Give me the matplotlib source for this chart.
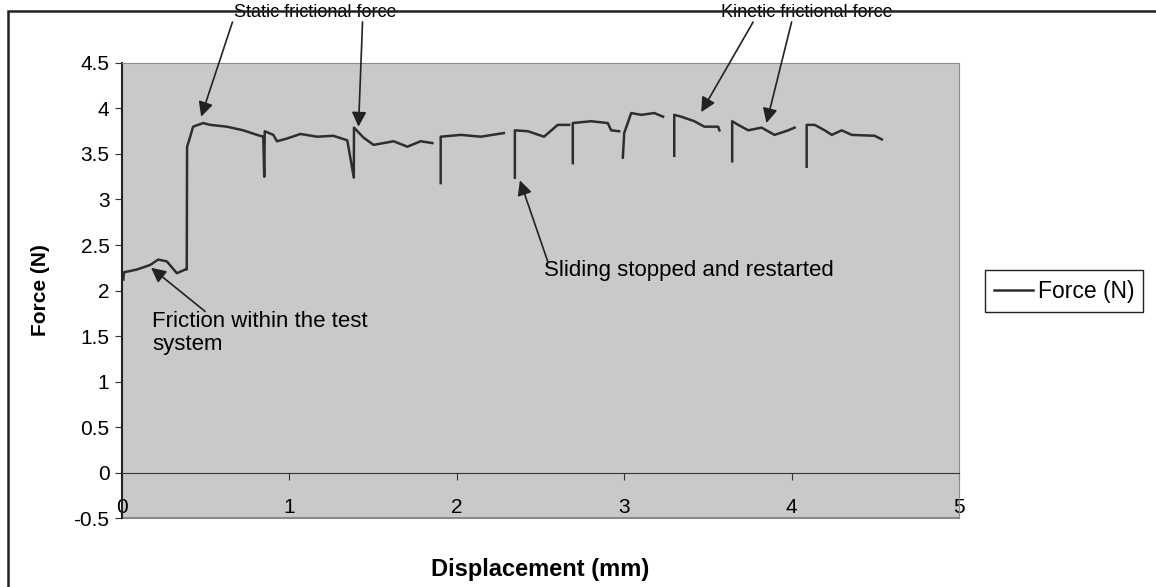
#!/usr/bin/env python

import numpy as np
import matplotlib.pyplot as plt
from matplotlib.patches import Rectangle

nan = np.nan

# displacement [mm] and force [N]; nan marks a break in the line
disp = [ \
0.008, 0.012, 0.088, 0.168, 0.216, 0.268, 0.328, 0.377, 0.387, 0.389, 0.401, \
0.425, 0.485, 0.527, 0.627, 0.725, 0.807, 0.844, 0.850, 0.853, 0.904, 0.926, \
0.986, 1.066, 1.166, 1.263, 1.346, 1.385, 1.386, 1.443, 1.503, 1.623, 1.705, \
1.784, 1.854, nan, \
1.904, 1.904, 2.024, 2.144, 2.281, nan, \
2.347, 2.347, 2.425, 2.521, 2.603, 2.671, nan, \
2.693, 2.693, 2.802, 2.902, 2.922, 2.970, nan, \
2.992, 3.000, 3.042, 3.102, 3.180, 3.232, nan, \
3.299, 3.299, 3.341, 3.419, 3.479, 3.561, 3.569, nan, \
3.645, 3.645, 3.681, 3.741, 3.820, 3.898, 3.980, 4.018, nan, \
4.090, 4.090, 4.138, 4.198, 4.240, 4.299, 4.359, 4.497, 4.539 ]

force = [ \
2.12, 2.20, 2.23, 2.28, 2.34, 2.32, 2.19, 2.23, 2.23, 3.58, 3.65, \
3.80, 3.84, 3.82, 3.80, 3.76, 3.71, 3.69, 3.25, 3.75, 3.71, 3.64, \
3.67, 3.72, 3.69, 3.70, 3.65, 3.24, 3.79, 3.68, 3.60, 3.64, 3.58, \
3.64, 3.62, nan, \
3.18, 3.69, 3.71, 3.69, 3.73, nan, \
3.24, 3.76, 3.75, 3.69, 3.82, 3.82, nan, \
3.40, 3.84, 3.86, 3.84, 3.76, 3.75, nan, \
3.46, 3.73, 3.95, 3.93, 3.95, 3.91, nan, \
3.48, 3.93, 3.91, 3.86, 3.80, 3.80, 3.76, nan, \
3.42, 3.86, 3.82, 3.76, 3.79, 3.71, 3.76, 3.79, nan, \
3.36, 3.82, 3.82, 3.76, 3.71, 3.76, 3.71, 3.70, 3.66 ]

xticks = [ 0, 1, 2, 3, 4, 5 ]
yticks = [ -0.5, 0, 0.5, 1, 1.5, 2, 2.5, 3, 3.5, 4, 4.5 ]

# ( text, text position, [ arrow tips ], font size )
notes = [ \
( 'Static frictional force', ( 0.67, 5.06 ), [ ( 0.473, 3.91 ), ( 1.413, 3.80 ) ], 13 ), \
( 'Kinetic frictional force', ( 3.58, 5.06 ), [ ( 3.46, 3.96 ), ( 3.85, 3.84 ) ], 13 ), \
( 'Sliding stopped and restarted', ( 2.52, 2.22 ), [ ( 2.377, 3.21 ) ], 16 ), \
( 'Friction within the test\nsystem', ( 0.18, 1.53 ), [ ( 0.174, 2.25 ) ], 16 ) ]
tails = [ [ ( 0.66, 4.95 ), ( 1.437, 4.95 ) ], \
          [ ( 3.77, 4.95 ), ( 4.00, 4.95 ) ], \
          [ ( 2.545, 2.31 ) ], \
          [ ( 0.497, 1.77 ) ] ]

fam = [ 'Liberation Sans', 'DejaVu Sans' ]

fig = plt.figure( figsize = ( 11.56, 5.87 ), dpi = 100 )
ax = fig.add_axes( [ 0.1055, 0.1175, 0.7241, 0.7752 ] )
ax.set_facecolor( '#c9c9c9' )

ax.plot( disp, force, c = '#2e2e2e', lw = 1.8, label = 'Force (N)' )

ax.set_xlim( 0, 5 )
ax.set_ylim( -0.5, 4.5 )

ax.spines['bottom'].set_position( ( 'data', 0 ) )
ax.spines['bottom'].set_color( '#333333' )
ax.spines['left'].set_color( '#222222' )
ax.spines['left'].set_linewidth( 1.5 )
ax.spines['top'].set_color( '#8a8a8a' )
ax.spines['right'].set_color( '#8a8a8a' )
ax.axhline( -0.5, c = '#8a8a8a', lw = 1.5, clip_on = False )

ax.set_xticks( xticks )
ax.set_yticks( yticks )
ax.set_xticklabels( [ '{:g}'.format( v ) for v in xticks ], family = fam, fontsize = 15 )
ax.set_yticklabels( [ '{:g}'.format( v ) for v in yticks ], family = fam, fontsize = 15 )
ax.tick_params( axis = 'x', direction = 'out', length = 5, pad = 13, color = '#333333' )
ax.tick_params( axis = 'y', direction = 'out', length = 5, pad = 4, color = '#333333' )

for ( txt, pos, tips, size ), tl in zip( notes, tails ):
    ax.text( pos[0], pos[1], txt, family = fam, fontsize = size, ha = 'left', \
             va = 'center', linespacing = 1.12, clip_on = False )
    for tip, tail in zip( tips, tl ):
        ax.annotate( '', xy = tip, xytext = tail, annotation_clip = False, \
                     arrowprops = dict( arrowstyle = '-|>', color = '#222222', \
                                        lw = 1.2, mutation_scale = 22, \
                                        shrinkA = 0, shrinkB = 0 ) )

fig.text( 0.035, 0.506, 'Force (N)', family = fam, fontsize = 15, \
          fontweight = 'bold', rotation = 90, ha = 'center', va = 'center' )
fig.text( 0.467, 0.03, 'Displacement (mm)', family = fam, fontsize = 17, \
          fontweight = 'bold', ha = 'center', va = 'center' )

leg = fig.legend( loc = 'center left', bbox_to_anchor = ( 0.852, 0.504 ), \
                  prop = { 'family' : fam, 'size' : 16.5 }, fancybox = False, \
                  edgecolor = '#222222', framealpha = 1, handlelength = 1.7, \
                  handletextpad = 0.2, borderpad = 0.4, borderaxespad = 0 )
leg.get_frame().set_linewidth( 1.0 )

fig.patches.append( Rectangle( ( 0.007, -0.01 ), 1.0, 0.991, transform = fig.transFigure, \
                               fill = False, ec = '#222222', lw = 1.8 ) )

plt.savefig( 'out.png', dpi = 100 )
